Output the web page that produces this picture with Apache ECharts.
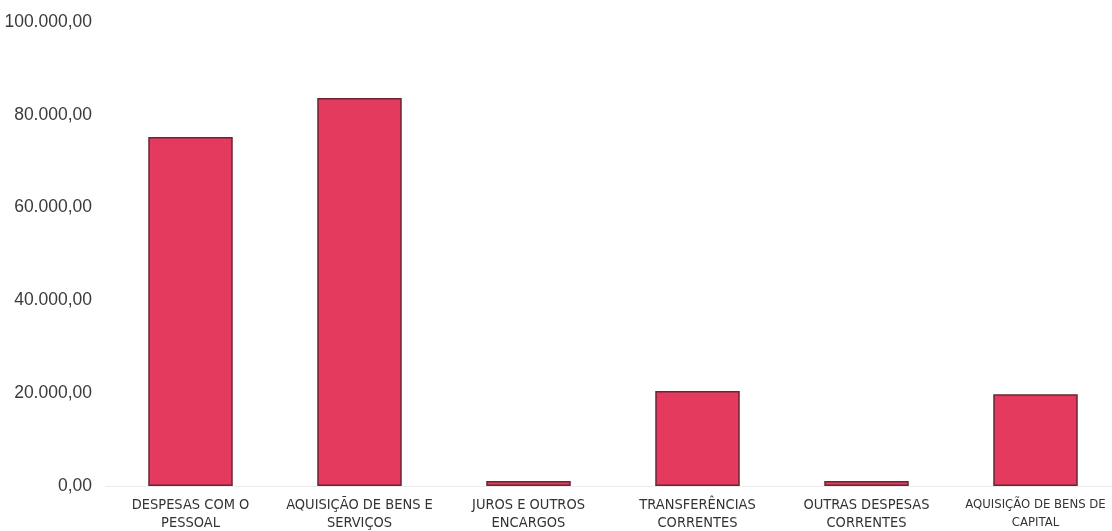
<!DOCTYPE html>
<html>
<head>
<meta charset="utf-8">
<script src="https://cdn.jsdelivr.net/npm/echarts@6/dist/echarts.min.js"></script>
<style>
html,body{margin:0;padding:0;background:#fff;}
#c{width:1112px;height:531px;}
</style>
</head>
<body>
<div id="c"></div>
<script>
const categories = [
  "DESPESAS COM O\nPESSOAL",
  "AQUISIÇÃO DE BENS E\nSERVIÇOS",
  "JUROS E OUTROS\nENCARGOS",
  "TRANSFERÊNCIAS\nCORRENTES",
  "OUTRAS DESPESAS\nCORRENTES",
  "AQUISIÇÃO DE BENS DE\nCAPITAL"
];
const values = [75200, 83600, 1100, 20450, 1100, 19800];
const yMin = 0, yMax = 100000, yStep = 20000;

function fmtBR(v){
  const s = Math.round(v).toString().replace(/\B(?=(\d{3})+(?!\d))/g, ".");
  return s + ",00";
}

const XFONT = '"Liberation Sans Narrow", "Arial Narrow", "DejaVu Sans Condensed", sans-serif';
const YFONT = '"Liberation Sans Narrow", "Arial Narrow", "Liberation Sans", sans-serif';

// long labels are squeezed a little so they fit like in the original
const catData = categories.map(function(c){
  const longest = Math.max.apply(null, c.split('\n').map(function(s){return s.length;}));
  return longest > 19 ? {value:c, textStyle:{fontSize:13}} : c;
});

const chart = echarts.init(document.getElementById('c'), null, {renderer:'canvas'});
chart.setOption({
  animation:false,
  grid:{left:106, right:-8, top:22, bottom:45, containLabel:false, outerBoundsMode:'none'},
  xAxis:{
    type:'category',
    data:catData,
    axisLine:{show:true, lineStyle:{color:'#ececec', width:1}},
    axisTick:{show:false},
    axisLabel:{interval:0, margin:10, fontFamily:XFONT, fontSize:14.5, lineHeight:18, color:'#333', align:'center', hideOverlap:false}
  },
  yAxis:{
    type:'value',
    min:yMin, max:yMax, interval:yStep,
    axisLine:{show:false}, axisTick:{show:false},
    splitLine:{show:false},
    axisLabel:{margin:14, fontFamily:YFONT, fontSize:17.5, color:'#3a3a3a', formatter:fmtBR}
  },
  series:[{
    type:'bar',
    data:values,
    barWidth:'50%',
    itemStyle:{color:'#e43a5d', borderColor:'#6a2535', borderWidth:1.5}
  }]
});
</script>
</body>
</html>
